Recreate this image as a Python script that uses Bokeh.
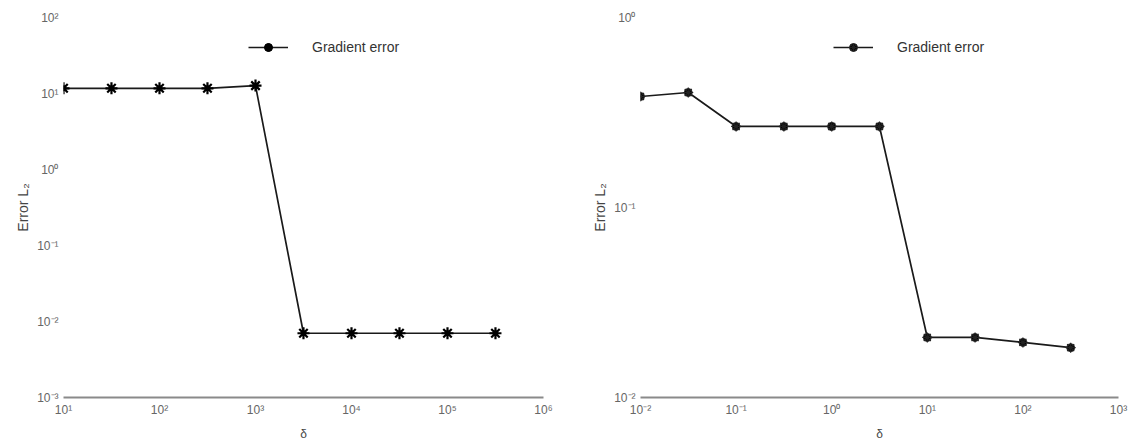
from bokeh.plotting import figure
from bokeh.layouts import row
from bokeh.models import FixedTicker, CustomJSTickFormatter, Legend
from bokeh.embed import file_html
from bokeh.resources import INLINE

# ---- data ----
left_delta = [10, 31.6, 100, 316, 1000, 3160, 10000, 31600, 100000, 316000]
left_err = [11.7, 11.7, 11.7, 11.7, 12.7, 0.0070, 0.0070, 0.0070, 0.0070, 0.0070]
right_delta = [0.01, 0.0316, 0.1, 0.316, 1, 3.16, 10, 31.6, 100, 316]
right_err = [0.384, 0.403, 0.267, 0.267, 0.267, 0.267, 0.0207, 0.0207, 0.0195, 0.0183]

left_xticks = [1e1, 1e2, 1e3, 1e4, 1e5, 1e6]
left_yticks = [1e-3, 1e-2, 1e-1, 1e0, 1e1, 1e2]
right_xticks = [1e-2, 1e-1, 1e0, 1e1, 1e2, 1e3]
right_yticks = [1e-2, 1e-1, 1e0]

series_label = "Gradient error"
x_label = "δ"
y_label = "Error L₂"

FONT = "Liberation Sans"
SUP_JS = """
const sup = {"-":"\u207b","0":"\u2070","1":"\u00b9","2":"\u00b2","3":"\u00b3","4":"\u2074","5":"\u2075","6":"\u2076","7":"\u2077","8":"\u2078","9":"\u2079"};
const e = Math.round(Math.log10(tick)).toString();
return "10" + e.split("").map(c => sup[c]).join("");
"""


def make_fig(xs, ys, xticks, yticks, marker, left_border, right_border, fw, legend_x):
    p = figure(
        x_axis_type="log", y_axis_type="log",
        x_range=(xticks[0], xticks[-1]), y_range=(yticks[0], yticks[-1]),
        frame_width=fw, frame_height=380,
        min_border_left=left_border, min_border_right=right_border,
        min_border_top=17, min_border_bottom=44,
        output_backend="svg", toolbar_location=None,
        background_fill_color="white", border_fill_color="white",
    )
    p.outline_line_color = None
    p.grid.visible = False

    r_line = p.line(xs, ys, line_color="#1a1a1a", line_width=1.7)
    rs = [r_line]
    if marker == "asterisk":
        rs.append(p.scatter(xs, ys, marker="circle", size=5, fill_color="black", line_color="black"))
        rs.append(p.scatter(xs, ys, marker="asterisk", size=12, line_color="black", line_width=2.2))
    else:
        rs.append(p.scatter(xs, ys, marker="circle", size=8, fill_color="black", line_color="#333333"))
        rs.append(p.scatter(xs, ys, marker="asterisk", size=10, line_color="#222222", line_width=1.2))

    legend = Legend(items=[(series_label, rs)], location=(legend_x, 340))
    legend.glyph_width = 40
    legend.glyph_height = 20
    legend.label_standoff = 24
    legend.padding = 0
    legend.margin = 0
    legend.border_line_color = None
    legend.background_fill_alpha = 0
    legend.label_text_font = FONT
    legend.label_text_font_size = "14px"
    legend.label_text_color = "#333333"
    p.add_layout(legend, "center")

    for ax in (p.xaxis[0], p.yaxis[0]):
        ax.major_label_text_font = FONT
        ax.major_label_text_font_size = "12px"
        ax.major_label_text_color = "#666666"
        ax.axis_label_text_font = FONT
        ax.axis_label_text_font_style = "normal"
        ax.axis_label_text_color = "#444444"
        ax.formatter = CustomJSTickFormatter(code=SUP_JS)
        ax.minor_tick_line_color = None
        ax.major_tick_line_color = None
        ax.major_tick_out = 0
        ax.major_tick_in = 0

    p.xaxis[0].ticker = FixedTicker(ticks=xticks)
    p.yaxis[0].ticker = FixedTicker(ticks=yticks)
    p.xaxis[0].axis_line_color = "#8a8a8a"
    p.xaxis[0].axis_line_width = 2
    p.yaxis[0].axis_line_color = None
    p.xaxis[0].major_label_standoff = 5
    p.yaxis[0].major_label_standoff = 5
    p.xaxis[0].axis_label = x_label
    p.xaxis[0].axis_label_text_font_size = "12px"
    p.xaxis[0].axis_label_standoff = 7
    p.yaxis[0].axis_label = y_label
    p.yaxis[0].axis_label_text_font_size = "14px"
    p.yaxis[0].axis_label_standoff = 3
    return p


p1 = make_fig(left_delta, left_err, left_xticks, left_yticks, "asterisk", 63, 35, 480, 185)
p2 = make_fig(right_delta, right_err, right_xticks, right_yticks, "dot", 62, 12, 478, 193)

layout = row(p1, p2)
open("out.html", "w").write(file_html(layout, INLINE))
